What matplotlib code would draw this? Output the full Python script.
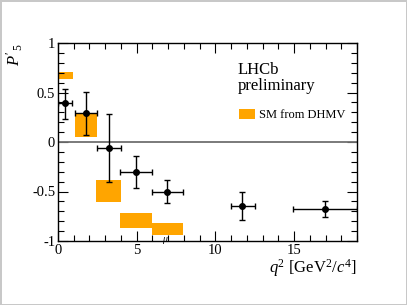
import numpy as np
import matplotlib
matplotlib.use("Agg")
import matplotlib.pyplot as plt
from matplotlib.ticker import MultipleLocator

plt.rcParams['font.family'] = ['Liberation Serif', 'DejaVu Serif']
plt.rcParams['mathtext.fontset'] = 'custom'
plt.rcParams['mathtext.rm'] = 'Liberation Serif'
plt.rcParams['mathtext.it'] = 'Liberation Serif:italic'

# measured P5' points (q2 bin centres, edges, asymmetric errors)
q2 = [0.46, 1.76, 3.22, 4.95, 6.94, 11.72, 16.97]
q2_lo = [0.02, 1.08, 2.45, 3.95, 5.95, 11.0, 14.95]
q2_hi = [0.92, 2.48, 3.98, 5.95, 7.96, 12.5, 19.0]
p5 = [0.39, 0.29, -0.06, -0.30, -0.50, -0.65, -0.68]
p5_up = [0.145, 0.215, 0.345, 0.16, 0.12, 0.14, 0.08]
p5_dn = [0.155, 0.22, 0.34, 0.16, 0.12, 0.14, 0.075]

# SM prediction boxes (DHMV)
sm_lo = [0.0, 1.08, 2.43, 3.94, 5.95]
sm_hi = [0.93, 2.48, 3.98, 5.95, 7.96]
sm_bot = [0.64, 0.05, -0.605, -0.869, -0.943]
sm_top = [0.71, 0.278, -0.381, -0.715, -0.818]

fig = plt.figure(figsize=(4.07, 3.05), dpi=100)
fig.patch.set_edgecolor('#c8c8c8')
fig.patch.set_linewidth(2)
ax = fig.add_axes([58/407, 1-241/305, (357-58)/407, (241-43)/305])

sm_lo = np.array(sm_lo); sm_hi = np.array(sm_hi)
sm_bot = np.array(sm_bot); sm_top = np.array(sm_top)
ax.bar(sm_lo, sm_top - sm_bot, bottom=sm_bot, width=sm_hi - sm_lo, align='edge',
       color='#ffa500', edgecolor='none', zorder=1, label='SM from DHMV')

ax.axhline(0, color='#707070', lw=1.3, zorder=2)

q2a = np.array(q2)
xerr = [q2a - np.array(q2_lo), np.array(q2_hi) - q2a]
ax.errorbar(q2, p5, xerr=xerr, yerr=[p5_dn, p5_up], fmt='o', color='black',
            ms=4, lw=1, capsize=2, capthick=1, zorder=3)

ax.set_xlim(0, 19)
ax.set_ylim(-1, 1)
ax.xaxis.set_minor_locator(MultipleLocator(1))
ax.yaxis.set_minor_locator(MultipleLocator(0.1))
ax.set_yticks([-1, -0.5, 0, 0.5, 1])
ax.set_yticklabels(['-1', '-0.5', '0', '0.5', '1'])
ax.set_xticks([0, 5, 10, 15])
ax.set_xticklabels(['0', '5', '10', '15'])
ax.tick_params(which='both', direction='in', top=True, right=True, labelsize=10.5, pad=2, width=0.8)
ax.tick_params(which='major', length=7)
ax.tick_params(which='minor', length=4)
for s in ax.spines.values():
    s.set_linewidth(1)

fig.text(357/407, 1 - 273/305, r"$q^{2}$ [GeV$^{2}$/$c^{4}$]", fontsize=12, ha='right', va='baseline')
fig.text(15/407, 1 - 43/305, r"$P'_{\,5}$", fontsize=12, rotation=90, ha='center', va='top')

ax.text(238/407, 1 - 62/305, "LHCb\npreliminary", transform=fig.transFigure,
        fontsize=12, ha='left', va='top', linespacing=1.0)
ax.legend(loc='upper left', bbox_to_anchor=(234/407, 1 - 104/305), bbox_transform=fig.transFigure,
          frameon=False, fontsize=9, handlelength=1.3, handleheight=0.9, handletextpad=0.3, borderaxespad=0)
ax.text(164/407, 1 - 240/305, "\u03bc", transform=fig.transFigure, fontsize=7, style='italic',
        ha='center', va='center')

fig.savefig("out.png", dpi=100)
